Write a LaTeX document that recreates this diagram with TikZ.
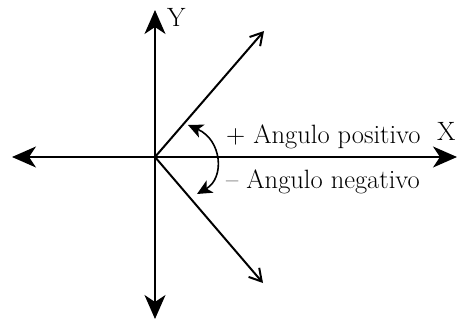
\documentclass[tikz,border=0pt]{standalone}
\usepackage{fontspec}
\usetikzlibrary{arrows.meta}

\begin{document}
\begin{tikzpicture}[
  x=1pt, y=-1pt,
  font=\fontsize{26.5}{31}\selectfont,
  axis/.style={-{Stealth[length=24pt,width=21pt,inset=7pt]}, line width=1.4pt},
  ray/.style={-{Straight Barb[length=12pt,width=14pt]}, line width=2pt},
  turn/.style={{Stealth[length=15pt,width=14pt,inset=4pt]}-{Stealth[length=15pt,width=14pt,inset=4pt]}, line width=1.6pt},
  lbl/.style={inner sep=0pt, anchor=base west}
]
\useasboundingbox (0,0) rectangle (458,321);

\coordinate (origin) at (155,157);
\coordinate (xend) at (457,157);
\coordinate (xneg) at (12,157);
\coordinate (yend) at (155,10);
\coordinate (yneg) at (155,319);
\coordinate (up) at (264,31);
\coordinate (down) at (263,283);
\coordinate (arcA) at (188,125);
\coordinate (arcB) at (197,194);

\draw[axis] (origin) -- (xend);
\draw[axis] (origin) -- (xneg);
\draw[axis] (origin) -- (yend);
\draw[axis] (origin) -- (yneg);

\draw[ray] (origin) -- (up);
\draw[ray] (origin) -- (down);

\draw[turn] (arcA) .. controls (222,140) and (225,178) .. (arcB);

\node[lbl] (ylabel) at (167,27) {Y};
\node[lbl] (xlabel) at (437,140) {X};
\node[lbl] (pos) at (226,143) {+ Angulo positivo};
\node[lbl] (neg) at (226,188) {-- Angulo negativo};
\end{tikzpicture}
\end{document}
